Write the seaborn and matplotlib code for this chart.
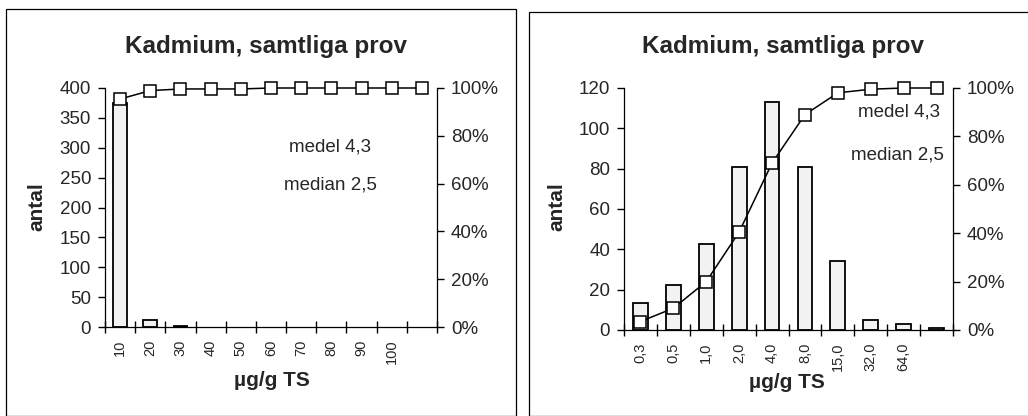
import numpy as np
import pandas as pd
import matplotlib
matplotlib.use("Agg")
import matplotlib.pyplot as plt
from matplotlib.patches import Rectangle
from matplotlib.ticker import FixedLocator, FixedFormatter, NullFormatter
import seaborn as sns

# ---------- DATA ----------
left_cats = ["10", "20", "30", "40", "50", "60", "70", "80", "90", "100", ""]
left_counts = [375, 11, 2, 0, 0, 0, 0, 0, 0, 0, 0]
left_cum = [95.4, 98.9, 99.6, 99.6, 99.6, 100, 100, 100, 100, 100, 100]

right_cats = ["0,3", "0,5", "1,0", "2,0", "4,0", "8,0", "15,0", "32,0", "64,0", ""]
right_counts = [13.5, 22.5, 42.5, 81, 113, 81, 34, 5, 3, 1]
right_cum = [3.5, 9, 20, 40.5, 69, 89, 98, 99.5, 100, 100]

title = "Kadmium, samtliga prov"
xlabel = "µg/g TS"
ylabel = "antal"

sns.set_style("white")
plt.rcParams["font.family"] = ["Liberation Sans", "DejaVu Sans"]

TICK_FS = 13.5


def draw_panel(fig, rect, cats, counts, cum, ymax, ystep):
    ax = fig.add_axes(rect)
    df = pd.DataFrame({"cat": cats, "n": counts})
    sns.barplot(data=df, x="cat", y="n", order=cats, ax=ax, width=0.45,
                color="#f2f2f2", edgecolor="black", linewidth=1.3, saturation=1)
    # empty classes draw nothing
    for p in ax.patches:
        if p.get_height() == 0:
            p.set_visible(False)
    n = len(cats)

    ax2 = ax.twinx()
    sns.lineplot(x=np.arange(n), y=cum, ax=ax2, color="black", linewidth=1.1,
                 marker="s", markersize=9, markerfacecolor="white",
                 markeredgecolor="black", markeredgewidth=1.1, clip_on=False)

    ax.set_xlim(-0.5, n - 0.5)
    ax.set_ylim(0, ymax)
    ax.set_yticks(np.arange(0, ymax + 1, ystep))
    # class boundaries get the tick marks, class centres get the labels
    ax.xaxis.set_major_locator(FixedLocator(np.arange(-0.5, n, 1)))
    ax.xaxis.set_major_formatter(NullFormatter())
    ax.xaxis.set_minor_locator(FixedLocator(np.arange(n)))
    ax.xaxis.set_minor_formatter(FixedFormatter(cats))
    ax.tick_params(axis="x", which="major", length=8, direction="inout", width=1.0,
                   bottom=True, color="black")
    ax.tick_params(axis="x", which="minor", length=0, pad=9, bottom=True,
                   labelsize=10.5, labelrotation=90)
    ax.tick_params(axis="y", length=5, direction="out", width=1.0, labelsize=TICK_FS,
                   pad=5, left=True, color="black")
    ax.set_xlabel("")
    ax.set_ylabel("")
    for s in ["left", "bottom"]:
        ax.spines[s].set_color("black")
        ax.spines[s].set_linewidth(0.9)
    ax.spines["top"].set_visible(False)
    ax.spines["right"].set_visible(False)

    ax2.set_ylim(0, 100)
    ax2.set_yticks(np.arange(0, 101, 20))
    ax2.set_yticklabels([f"{v}%" for v in range(0, 101, 20)])
    ax2.tick_params(axis="y", length=5, direction="out", width=1.0, labelsize=TICK_FS,
                    pad=5, right=True, color="black")
    ax2.set_ylabel("")
    for s in ["top", "left", "bottom"]:
        ax2.spines[s].set_visible(False)
    ax2.spines["right"].set_color("black")
    ax2.spines["right"].set_linewidth(0.9)
    return ax, ax2


fig = plt.figure(figsize=(10.28, 4.16), dpi=100)

draw_panel(fig, [105 / 1028, 89 / 416, 332 / 1028, 239 / 416],
           left_cats, left_counts, left_cum, 400, 50)
draw_panel(fig, [624 / 1028, 86 / 416, 329 / 1028, 242 / 416],
           right_cats, right_counts, right_cum, 120, 20)

W, H = 1028, 416
def fx(x): return x / W
def fy(y): return 1 - y / H

# titles and labels
fig.text(fx(266), fy(47), title, ha="center", va="center", fontsize=17.5, fontweight="bold")
fig.text(fx(783), fy(47), title, ha="center", va="center", fontsize=17.5, fontweight="bold")
fig.text(fx(37), fy(207), ylabel, ha="center", va="center", rotation=90, fontsize=15, fontweight="bold")
fig.text(fx(557), fy(207), ylabel, ha="center", va="center", rotation=90, fontsize=15, fontweight="bold")
fig.text(fx(272), fy(381), xlabel, ha="center", va="center", fontsize=15, fontweight="bold")
fig.text(fx(787), fy(383), xlabel, ha="center", va="center", fontsize=15, fontweight="bold")

# stats text
fig.text(fx(330), fy(147), "medel 4,3", ha="center", va="center", fontsize=13.5)
fig.text(fx(330), fy(185), "median 2,5", ha="center", va="center", fontsize=13.5)
fig.text(fx(940), fy(112), "medel 4,3", ha="right", va="center", fontsize=13.5)
fig.text(fx(944), fy(155), "median 2,5", ha="right", va="center", fontsize=13.5)

# panel frames
fig.add_artist(Rectangle((fx(6), 0), fx(516) - fx(6), fy(9), transform=fig.transFigure,
                         fill=False, edgecolor="black", linewidth=0.9))
fig.add_artist(Rectangle((fx(529), 0), fx(1040) - fx(529), fy(12), transform=fig.transFigure,
                         fill=False, edgecolor="black", linewidth=0.9))

fig.savefig("out.png", dpi=100)
